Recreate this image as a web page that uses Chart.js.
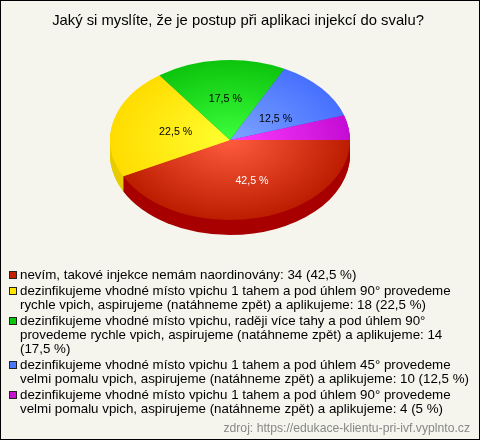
<!DOCTYPE html>
<html>
<head>
<meta charset="utf-8">
<script src="https://cdn.jsdelivr.net/npm/chart.js@4"></script>
<style>
body { margin: 0; background: #f5f5ee; }
canvas { display: block; }
</style>
</head>
<body>
<canvas id="chart" width="480" height="440"></canvas>
<script>
var chartTitle = 'Jaký si myslíte, že je postup při aplikaci injekcí do svalu?';
var sourceNote = 'zdroj: https://edukace-klientu-pri-ivf.vyplnto.cz';
var categories = [
    'nevím, takové injekce nemám naordinovány',
    'dezinfikujeme vhodné místo vpichu 1 tahem a pod úhlem 90° provedeme rychle vpich, aspirujeme (natáhneme zpět) a aplikujeme',
    'dezinfikujeme vhodné místo vpichu, raději více tahy a pod úhlem 90° provedeme rychle vpich, aspirujeme (natáhneme zpět) a aplikujeme',
    'dezinfikujeme vhodné místo vpichu 1 tahem a pod úhlem 45° provedeme velmi pomalu vpich, aspirujeme (natáhneme zpět) a aplikujeme',
    'dezinfikujeme vhodné místo vpichu 1 tahem a pod úhlem 90° provedeme velmi pomalu vpich, aspirujeme (natáhneme zpět) a aplikujeme'
];
var answers = [34, 18, 14, 10, 4];
var percents = ['42,5', '22,5', '17,5', '12,5', '5'];
var innerColors = ['#ff5c3e', '#ffff30', '#3cff3c', '#7ea4ff', '#ff3cff'];
var outerColors = ['#bc1c00', '#ffdc00', '#0cc40c', '#4670ff', '#c40cd4'];
var sideColors = ['#a80000', '#e6cc00', '#0a9a0a', '#3355cc', '#9a0aa4'];
var boxColors = ['#c41e00', '#ffe600', '#0cc80c', '#4a78ff', '#c810d0'];
var labelColors = ['#ffffff', '#000000', '#000000', '#000000', null];
var labelNudge = [[8, 2], [4, 1], [0, -1], [0, 5], [0, 0]];

var squash = 2 / 3;
var depth = 15;

function fakePie(ctx, chart) {
    var cy = (chart.chartArea.top + chart.chartArea.bottom) / 2;
    ctx.translate(0, cy);
    ctx.scale(1, squash);
    ctx.translate(0, -cy);
}

var pie3d = {
    id: 'pie3d',
    beforeDatasetsDraw: function (chart) {
        var ctx = chart.ctx;
        var arcs = chart.getDatasetMeta(0).data;
        for (var dy = depth; dy > 0; dy--) {
            ctx.save();
            ctx.translate(0, dy);
            fakePie(ctx, chart);
            arcs.forEach(function (arc, i) {
                ctx.beginPath();
                ctx.moveTo(arc.x, arc.y);
                ctx.arc(arc.x, arc.y, arc.outerRadius, arc.startAngle, arc.endAngle);
                ctx.closePath();
                ctx.fillStyle = sideColors[i];
                ctx.fill();
            });
            ctx.restore();
        }
        ctx.save();
        fakePie(ctx, chart);
    },
    afterDatasetsDraw: function (chart) {
        var ctx = chart.ctx;
        ctx.restore();
        var cy = (chart.chartArea.top + chart.chartArea.bottom) / 2;
        ctx.font = '10.67px "Liberation Sans"';
        ctx.textAlign = 'center';
        ctx.textBaseline = 'middle';
        chart.getDatasetMeta(0).data.forEach(function (arc, i) {
            if (!labelColors[i]) return;
            var p = arc.getCenterPoint();
            ctx.fillStyle = labelColors[i];
            ctx.fillText(percents[i] + ' %', p.x + labelNudge[i][0], cy + (p.y - cy) * squash + labelNudge[i][1]);
        });
    }
};

function wrapLine(ctx, text, maxWidth) {
    var lines = [];
    var line = '';
    text.split(' ').forEach(function (word) {
        var next = line ? line + ' ' + word : word;
        if (line && ctx.measureText(next).width > maxWidth) {
            lines.push(line);
            line = word;
        } else {
            line = next;
        }
    });
    lines.push(line);
    return lines;
}

var texts = {
    id: 'texts',
    afterDraw: function (chart) {
        var ctx = chart.ctx;
        ctx.save();
        ctx.textBaseline = 'alphabetic';

        ctx.font = '14.8px "Liberation Sans"';
        ctx.fillStyle = '#000000';
        ctx.textAlign = 'center';
        ctx.fillText(chartTitle, 238, 25);

        ctx.font = '13.33px "Liberation Sans"';
        ctx.textAlign = 'left';
        var y = 279;
        categories.forEach(function (name, i) {
            ctx.fillStyle = boxColors[i];
            ctx.fillRect(9, y - 8, 8, 8);
            ctx.strokeStyle = '#222222';
            ctx.strokeRect(9.5, y - 7.5, 7, 7);
            ctx.fillStyle = '#000000';
            wrapLine(ctx, name + ': ' + answers[i] + ' (' + percents[i] + ' %)', 452).forEach(function (line) {
                ctx.fillText(line, 20, y);
                y += 14;
            });
            y += 2;
        });

        ctx.font = '12.2px "Liberation Sans"';
        ctx.fillStyle = '#888888';
        ctx.textAlign = 'right';
        ctx.fillText(sourceNote, 470, 432);

        ctx.strokeStyle = '#000000';
        ctx.strokeRect(0.5, 0.5, 479, 439);
        ctx.restore();
    }
};

var chart = new Chart('chart', {
    type: 'pie',
    data: {
        labels: categories,
        datasets: [{
            data: answers,
            borderWidth: 0,
            clip: false,
            backgroundColor: function (c) {
                var area = c.chart.chartArea;
                if (!area) return boxColors[c.dataIndex];
                var cx = (area.left + area.right) / 2;
                var cy = (area.top + area.bottom) / 2;
                var g = c.chart.ctx.createRadialGradient(cx, cy, 0, cx, cy, 120);
                g.addColorStop(0, innerColors[c.dataIndex]);
                g.addColorStop(1, outerColors[c.dataIndex]);
                return g;
            }
        }]
    },
    options: {
        responsive: false,
        animation: false,
        rotation: 90,
        layout: { padding: { left: 110, right: 130, top: 20, bottom: 180 } },
        plugins: {
            legend: { display: false },
            title: { display: false },
            tooltip: { enabled: false }
        }
    },
    plugins: [pie3d, texts]
});
</script>
</body>
</html>
